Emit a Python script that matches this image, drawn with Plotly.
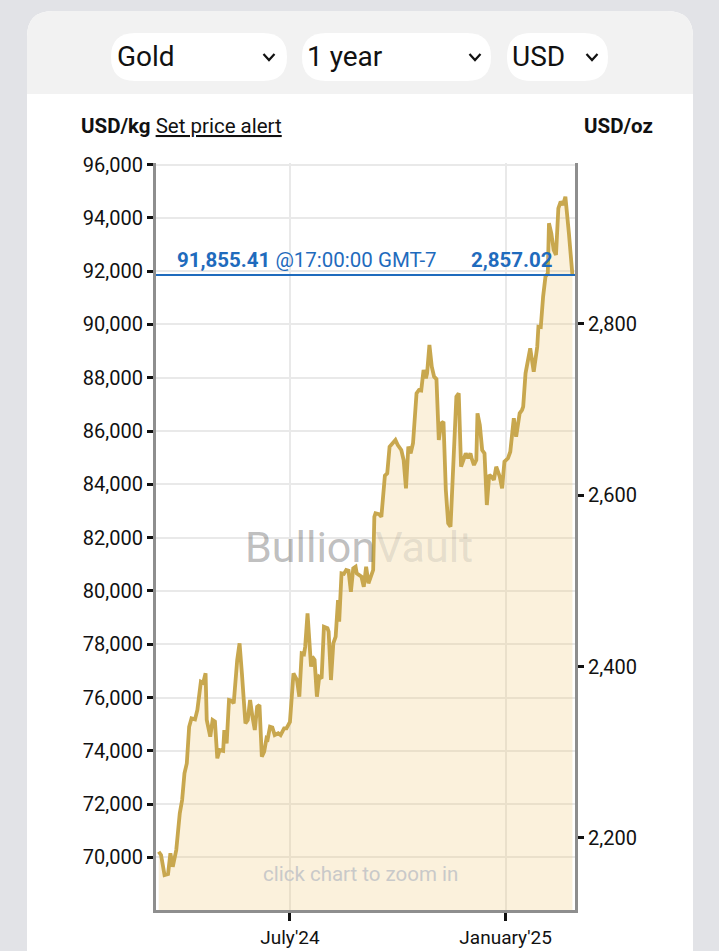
import plotly.graph_objects as go

# ---------------- data ----------------
dates = [
    "2024-03-11", "2024-03-13", "2024-03-16", "2024-03-19", "2024-03-21", "2024-03-23", "2024-03-26",
    "2024-03-29", "2024-03-31", "2024-04-02", "2024-04-04", "2024-04-06", "2024-04-08", "2024-04-11",
    "2024-04-13", "2024-04-16", "2024-04-18", "2024-04-20", "2024-04-21", "2024-04-24", "2024-04-26",
    "2024-04-28", "2024-04-30", "2024-05-02", "2024-05-05", "2024-05-06", "2024-05-08", "2024-05-10",
    "2024-05-12", "2024-05-14", "2024-05-17", "2024-05-19", "2024-05-21", "2024-05-24", "2024-05-26",
    "2024-05-28", "2024-05-30", "2024-06-01", "2024-06-03", "2024-06-05", "2024-06-07", "2024-06-09",
    "2024-06-11", "2024-06-12", "2024-06-14", "2024-06-16", "2024-06-18", "2024-06-21", "2024-06-23",
    "2024-06-26", "2024-06-28", "2024-07-01",
    "2024-07-04", "2024-07-07", "2024-07-09", "2024-07-11", "2024-07-13", "2024-07-14", "2024-07-16",
    "2024-07-19", "2024-07-20", "2024-07-22", "2024-07-24", "2024-07-26", "2024-07-28", "2024-07-30",
    "2024-08-02", "2024-08-03", "2024-08-05", "2024-08-07", "2024-08-09", "2024-08-11", "2024-08-12",
    "2024-08-14", "2024-08-16", "2024-08-18", "2024-08-20", "2024-08-22", "2024-08-24", "2024-08-26",
    "2024-08-27", "2024-08-29", "2024-08-31", "2024-09-02", "2024-09-04", "2024-09-06", "2024-09-08",
    "2024-09-10", "2024-09-11", "2024-09-12", "2024-09-15", "2024-09-17", "2024-09-20", "2024-09-22",
    "2024-09-24", "2024-09-27", "2024-09-29", "2024-10-01", "2024-10-04", "2024-10-06", "2024-10-08",
    "2024-10-10", "2024-10-12", "2024-10-14", "2024-10-17", "2024-10-19", "2024-10-21", "2024-10-23",
    "2024-10-25", "2024-10-26", "2024-10-28", "2024-10-30", "2024-11-01", "2024-11-03", "2024-11-05",
    "2024-11-07", "2024-11-09", "2024-11-11", "2024-11-13", "2024-11-15", "2024-11-17", "2024-11-20",
    "2024-11-22", "2024-11-24", "2024-11-26", "2024-11-28", "2024-11-30", "2024-12-02", "2024-12-03",
    "2024-12-05", "2024-12-07", "2024-12-08", "2024-12-10", "2024-12-12", "2024-12-14", "2024-12-16",
    "2024-12-18", "2024-12-20", "2024-12-22", "2024-12-24", "2024-12-27", "2024-12-29", "2024-12-31",
    "2025-01-03", "2025-01-05", "2025-01-08", "2025-01-10", "2025-01-13", "2025-01-15", "2025-01-16",
    "2025-01-18", "2025-01-20", "2025-01-22", "2025-01-25", "2025-01-28", "2025-01-29", "2025-01-31",
    "2025-02-02", "2025-02-04", "2025-02-06", "2025-02-07", "2025-02-09", "2025-02-11", "2025-02-13",
    "2025-02-15", "2025-02-17", "2025-02-19", "2025-02-21", "2025-02-22", "2025-02-24", "2025-02-27",
]

usd_per_kg = [
    70216, 70093, 69342, 69380, 70156, 69653, 70280,
    71657, 72156, 73158, 73533, 74906, 75221, 75180,
    75533, 76595, 76550, 76910, 75158, 74531, 75158,
    75100, 73721, 74032, 74000, 74782, 74283, 75908,
    75880, 75784, 77409, 78035, 76910, 75034, 75158,
    75908, 75281, 74782, 75657, 75720, 73781, 73968,
    74471, 74440, 74906, 74880, 74594, 74659, 74594,
    74846, 74846, 75083,
    76910, 76658, 76032, 77660, 77630, 77908, 79161,
    77157, 77533, 77409, 76032, 76782, 76722, 78658,
    78600, 78471, 76658, 78035, 78283, 79660, 78846,
    80662, 80640, 80786, 80760, 79971, 80849, 80909,
    80662, 80598, 80534, 80159, 80909, 80287, 80598,
    80786, 82785, 82913, 82880, 82785, 84324, 84414,
    85412, 85540, 85663, 85476, 85288, 84913, 83851,
    85412, 85164, 85540, 87415, 87539, 87520, 88290,
    87978, 88166, 89228, 88413, 88038, 87950, 85663,
    86290, 86350, 83787, 82538, 82410, 84162, 87288,
    87415, 84661, 84913, 85164, 84977, 85164, 84977,
    84725, 84913, 86665, 86226, 85288, 85164, 83224,
    84350, 84286, 84162, 84661, 84286, 83851, 84849,
    84977, 85224, 86477, 85787, 86665, 86789, 86913,
    88166, 88665, 89104, 88226, 89164, 89914, 89900,
    91040, 91790, 91918, 93794, 93419, 92792, 92604,
    94357, 94604, 94480, 94792, 94417, 93419, 91855.41,
]

current_kg = 91855.41
current_oz = 2857.02
current_time = "@17:00:00 GMT-7"
OZ_PER_KG = 32.1507466

kg_ticks = [70000, 72000, 74000, 76000, 78000, 80000, 82000, 84000, 86000, 88000, 90000, 92000, 94000, 96000]
oz_ticks = [2200, 2400, 2600, 2800]
x_tickvals = ["2024-07-01", "2025-01-01"]
x_ticktext = ["July'24", "January'25"]
selectors = ["Gold", "1 year", "USD"]

Y_RANGE = [68030, 96075]
X_RANGE = ["2024-03-08 17:00", "2025-03-01 05:00"]

# ---------------- layout helpers (pixel -> paper) ----------------
W, H = 719, 951
def px(x):
    return x / W
def py(y):
    return 1 - y / H

def rrect(x0, y0, x1, y1, rt, rb=None):
    if rb is None:
        rb = rt
    def P(x, y):
        return f"{px(x):.5f},{py(y):.5f}"
    s = f"M {P(x0 + rt, y0)} L {P(x1 - rt, y0)} Q {P(x1, y0)} {P(x1, y0 + rt)} "
    s += f"L {P(x1, y1 - rb)} Q {P(x1, y1)} {P(x1 - rb, y1)} "
    s += f"L {P(x0 + rb, y1)} Q {P(x0, y1)} {P(x0, y1 - rb)} "
    s += f"L {P(x0, y0 + rt)} Q {P(x0, y0)} {P(x0 + rt, y0)} Z"
    return s

FONT = "Roboto, 'Noto Sans', sans-serif"
GOLD = "#c8a74e"
BLUE = "#1f6bbd"

fig = go.Figure()

fig.add_trace(go.Scatter(
    x=dates, y=usd_per_kg, mode="lines",
    line=dict(color=GOLD, width=3.8),
    fill="tozeroy", fillcolor="rgba(238,200,115,0.25)",
    hoverinfo="skip", showlegend=False,
))
# invisible trace to activate the oz axis
fig.add_trace(go.Scatter(
    x=[dates[0]], y=[usd_per_kg[0] / OZ_PER_KG], yaxis="y2", mode="lines",
    line=dict(width=0), hoverinfo="skip", showlegend=False,
))

shapes = []
shapes.append(dict(type="path", xref="paper", yref="paper", layer="below",
                   path=rrect(27, 11, 693, 1010, 26), fillcolor="white", line=dict(width=0)))
shapes.append(dict(type="path", xref="paper", yref="paper", layer="below",
                   path=rrect(27, 11, 693, 94, 26, 0), fillcolor="#f2f2f2", line=dict(width=0)))
pills = [(111, 33, 287, 81), (302, 33, 491, 81), (507, 33, 608, 81)]
for (a, b, c, d) in pills:
    shapes.append(dict(type="path", xref="paper", yref="paper", layer="below",
                       path=rrect(a, b, c, d, 24), fillcolor="white", line=dict(width=0)))
for cx in [269, 475, 592]:
    cy = 57
    shapes.append(dict(type="path", xref="paper", yref="paper", layer="above",
                       path=f"M {px(cx-5.5):.5f},{py(cy-3):.5f} L {px(cx):.5f},{py(cy+3):.5f} L {px(cx+5.5):.5f},{py(cy-3):.5f}",
                       line=dict(color="#111", width=2.2)))
shapes.append(dict(type="line", xref="paper", yref="y", x0=px(156), x1=px(575),
                   y0=current_kg, y1=current_kg, line=dict(color=BLUE, width=2), layer="above"))

annotations = []
sel_x = [115, 305, 510]
for t, xx in zip(selectors, sel_x):
    annotations.append(dict(text=t, x=px(xx), y=py(57), xref="paper", yref="paper",
                            xanchor="left", yanchor="middle", showarrow=False,
                            font=dict(family=FONT, size=28, color="#111")))
annotations.append(dict(text="<b>USD/kg</b> <u>Set price alert</u>", x=px(79), y=py(126),
                        xref="paper", yref="paper", xanchor="left", yanchor="middle",
                        showarrow=False, font=dict(family=FONT, size=20.5, color="#111")))
annotations.append(dict(text="<b>USD/oz</b>", x=px(655), y=py(126),
                        xref="paper", yref="paper", xanchor="right", yanchor="middle",
                        showarrow=False, font=dict(family=FONT, size=20.5, color="#111")))
annotations.append(dict(text=f"<b>{current_kg:,.2f}</b> {current_time}", x=px(175), y=current_kg,
                        xref="paper", yref="y", xanchor="left", yanchor="bottom", yshift=1,
                        showarrow=False, font=dict(family=FONT, size=20.5, color=BLUE)))
annotations.append(dict(text=f"<b>{current_oz:,.2f}</b>", x=px(555), y=current_kg,
                        xref="paper", yref="y", xanchor="right", yanchor="bottom", yshift=1,
                        showarrow=False, font=dict(family=FONT, size=20.5, color=BLUE)))
annotations.append(dict(text="<span style='color:rgba(100,100,100,0.42)'>Bullion</span>"
                             "<span style='color:rgba(120,120,120,0.18)'>Vault</span>",
                        x=px(359), y=py(547), xref="paper", yref="paper",
                        xanchor="center", yanchor="middle", showarrow=False,
                        font=dict(family=FONT, size=43)))
annotations.append(dict(text="click chart to zoom in", x=px(360), y=py(874),
                        xref="paper", yref="paper", xanchor="center", yanchor="middle",
                        showarrow=False, font=dict(family=FONT, size=20.5, color="#c9c9c9")))

fig.update_layout(
    width=W, height=H,
    autosize=False,
    margin=dict(l=0, r=0, t=0, b=0, pad=0, autoexpand=False),
    paper_bgcolor="#e2e3e7",
    plot_bgcolor="rgba(0,0,0,0)",
    font=dict(family=FONT, size=20, color="#111"),
    showlegend=False,
    hovermode=False,
    shapes=shapes,
    annotations=annotations,
    xaxis=dict(
        domain=[px(156), px(575)], range=X_RANGE, type="date",
        tickvals=x_tickvals, ticktext=x_ticktext, automargin=False,
        showgrid=True, gridcolor="#e9e9e9", gridwidth=2,
        showline=True, linecolor="#8e8e8e", linewidth=3,
        ticks="outside", ticklen=8, tickwidth=3, tickcolor="#111",
        tickfont=dict(family=FONT, size=19, color="#111"),
        fixedrange=True,
    ),
    yaxis=dict(
        domain=[py(910), py(162.5)], range=Y_RANGE, automargin=False,
        tickvals=kg_ticks, tickformat=",d",
        showgrid=True, gridcolor="#e9e9e9", gridwidth=2,
        zeroline=False,
        showline=True, linecolor="#8e8e8e", linewidth=3,
        ticks="outside", ticklen=6, tickwidth=3, tickcolor="#111",
        tickfont=dict(family=FONT, size=20, color="#111"),
        fixedrange=True,
    ),
    yaxis2=dict(
        overlaying="y", side="right", anchor="x", automargin=False,
        range=[Y_RANGE[0] / OZ_PER_KG, Y_RANGE[1] / OZ_PER_KG],
        tickvals=oz_ticks, tickformat=",d",
        showgrid=False, zeroline=False,
        showline=True, linecolor="#8e8e8e", linewidth=3,
        ticks="outside", ticklen=6, tickwidth=3, tickcolor="#111",
        tickfont=dict(family=FONT, size=20, color="#111"),
        fixedrange=True,
    ),
)

fig.write_html("out.html")
